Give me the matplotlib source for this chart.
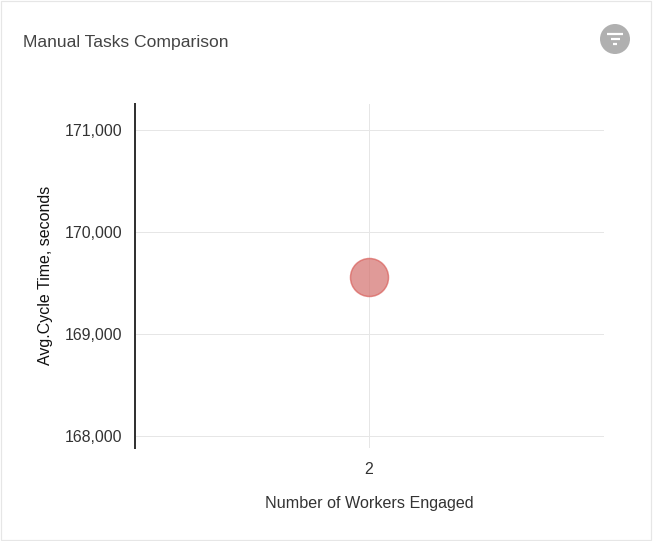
"""Manual tasks comparison card: one bubble on a single worker-count category."""

import matplotlib

matplotlib.use("Agg")
import matplotlib.pyplot as plt
from matplotlib.patches import Circle, Rectangle
from matplotlib.ticker import FuncFormatter

W, H = 653, 541
DPI = 100

workers = [2]
cycle_time = [169560]
y_ticks = [168000, 169000, 170000, 171000]
x_labels = ["2"]

plt.rcParams["font.family"] = ["Liberation Sans", "DejaVu Sans"]


def px(size):
    return size * 72 / DPI


fig = plt.figure(figsize=(W / DPI, H / DPI), dpi=DPI, facecolor="white")

# card frame and filter button, laid out in pixel coordinates
bg = fig.add_axes([0, 0, 1, 1])
bg.set_xlim(0, W)
bg.set_ylim(H, 0)
bg.axis("off")
bg.add_patch(Rectangle((0.5, 0.5), W - 2.5, H - 1.5, fc="white", ec="#e6e6e6", lw=px(1.2)))
bg.text(23, 42, "Manual Tasks Comparison", fontsize=px(17.5), color="#444444", va="center")
bg.add_patch(Circle((615, 39), 15, fc="#b0b0b0", ec="none"))
for y, half in [(34, 8), (39, 4.5), (44, 1.8)]:
    bg.plot([615 - half, 615 + half], [y, y], color="white", lw=px(2.2), solid_capstyle="butt")

left, right, top, bottom = 135, 604, 104, 448
ax = fig.add_axes([left / W, 1 - bottom / H, (right - left) / W, (bottom - top) / H])
ax.patch.set_alpha(0)
ax.set_xlim(1, 3.005)
ax.set_ylim(167882, 171255)

ax.scatter(workers, cycle_time, s=(px(38)) ** 2, color="#d4706c", alpha=0.7,
           edgecolors="#d9605c", linewidths=px(1.5), zorder=3)

ax.set_xticks(workers, x_labels)
ax.set_yticks(y_ticks)
ax.yaxis.set_major_formatter(FuncFormatter(lambda v, _: f"{v:,.0f}"))
ax.grid(True, color="#e6e6e6", lw=px(1))
ax.set_axisbelow(True)
ax.tick_params(length=0, labelsize=px(15.9), labelcolor="#333333")
ax.tick_params(axis="y", pad=px(13))
ax.tick_params(axis="x", pad=px(14))

for side in ("top", "right", "bottom"):
    ax.spines[side].set_visible(False)
ax.spines["left"].set_color("#333333")
ax.spines["left"].set_linewidth(px(2))

bg.text(369.5, 503.5, "Number of Workers Engaged", fontsize=px(16.1), color="#333333",
        ha="center", va="center")
bg.text(46, 275.5, "Avg.Cycle Time, seconds", fontsize=px(16), color="#111111",
        rotation=90, ha="center", va="center")

fig.savefig("out.png", dpi=DPI)
